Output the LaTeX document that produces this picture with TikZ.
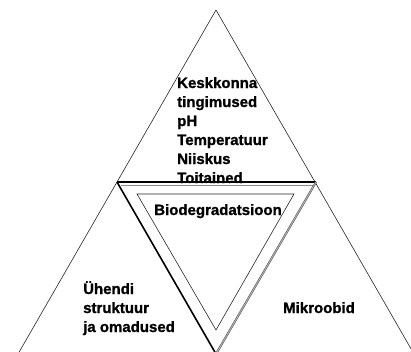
\documentclass[tikz,border=0pt]{standalone}
\usepackage{fontspec}
\setmainfont{Liberation Sans}[BoldFeatures={FakeBold=1.2}]
\usetikzlibrary{positioning,calc}

\begin{document}
\begin{tikzpicture}[x=1pt,y=-1pt,
		font=\fontsize{15}{19}\selectfont\bfseries,
		edge/.style={draw=black!85,line width=0.6pt},
		rim/.style={draw=black,line width=1.6pt},
		bevel/.style={draw=black!70,double=black!30,double distance=1pt,line width=0.5pt},
		lbl/.style={inner sep=0pt,align=left,anchor=base west}
		]
		\useasboundingbox (0,0) rectangle (411,351);

		% outer triangle
		\coordinate (apex) at (216,10);
		\coordinate (bl) at (18,354);
		\coordinate (br) at (414,354);
		% middle (inverted) triangle
		\coordinate (ml) at (117,182);
		\coordinate (mr) at (316,182);
		\coordinate (mb) at (216,354);
		% inner triangle
		\coordinate (il) at (137,194);
		\coordinate (ir) at (294,194);
		\coordinate (ib) at (216,330);

		\draw[edge] (apex) -- (bl);
		\draw[edge] (apex) -- (br);
		\draw[black!45,line width=0.6pt] ($(ml)+(4,3)$) -- ($(mr)+(-3,3)$);
		\draw[rim] (ml) -- (mr);
		\draw[rim] (ml) -- (mb);
		\draw[bevel] (mr) -- (mb);
		\draw[edge] (il) -- (ir) -- (ib) -- cycle;

		% multi-line labels sit on the baseline of their last line
		\node[lbl] (env) at (177,183) {Keskkonna\\tingimused\\pH\\Temperatuur\\Niiskus\\Toitained};
		\node[inner sep=0pt,anchor=base] (bio) at (218,215) {Biodegradatsioon};
		\node[lbl] (cmp) at (83,332) {Ühendi\\struktuur\\ja omadused};
		\node[lbl] (mic) at (283,313) {Mikroobid};

	\end{tikzpicture}
\end{document}
